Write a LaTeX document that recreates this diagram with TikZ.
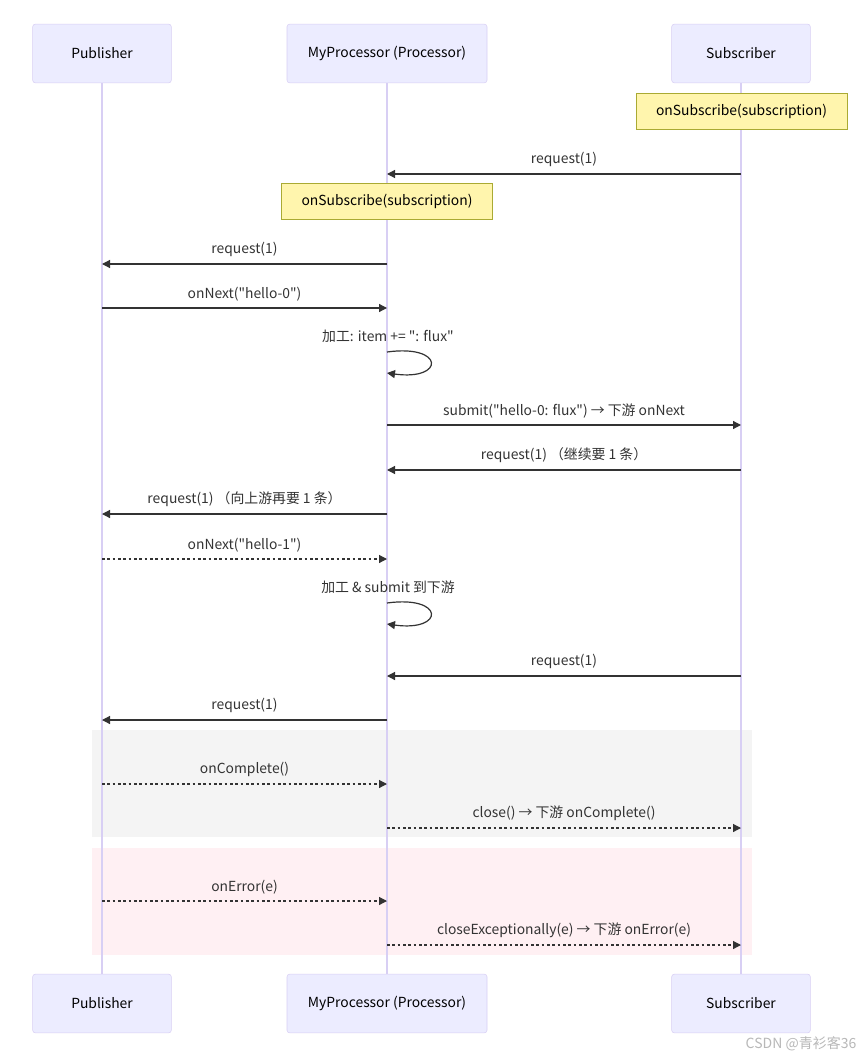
\documentclass[tikz,border=0pt]{standalone}
\usepackage{fontspec}
\newfontfamily\diagfont{Noto Sans CJK SC}
\usetikzlibrary{arrows.meta, positioning}
\definecolor{actfill}{HTML}{ECECFF}
\definecolor{actline}{HTML}{D8CFF4}
\definecolor{notefill}{HTML}{FFF5AD}
\definecolor{noteline}{HTML}{AAAA33}
\definecolor{msgcol}{HTML}{333333}
\definecolor{cmplfill}{HTML}{F4F4F4}
\definecolor{errfill}{HTML}{FFF0F3}
\newcommand{\msgfont}{\diagfont\fontsize{10.4}{12}\selectfont}

\tikzset{
  actor/.style={draw=actline, fill=actfill, rounded corners=2pt, minimum width=104pt,
    minimum height=44pt, font=\msgfont},
  note/.style={draw=noteline, fill=notefill, minimum width=158pt, minimum height=27pt,
    font=\msgfont},
  life/.style={actline, line width=1.2pt},
  msg/.style={msgcol, line width=0.9pt, -{Triangle[length=6pt,width=6pt]}},
  reply/.style={msg, dash pattern=on 2pt off 2pt},
  lbl/.style={above=4pt, text=msgcol, font=\msgfont, inner sep=1pt}
}

\begin{document}
\begin{tikzpicture}[x=0.75pt, y=-0.75pt]
\useasboundingbox[fill=white] (0,0) rectangle (864,1059);
% blocks
\fill[cmplfill] (92,730) rectangle (752,837);
\fill[errfill] (92,848) rectangle (752,955);
% actors
\node[actor] (pubT) at (102,53.5) {Publisher};
\node[actor, minimum width=150pt] (procT) at (387,53.5) {MyProcessor (Processor)};
\node[actor] (subT) at (741,53.5) {Subscriber};
\node[actor] (pubB) at (102,1003.5) {Publisher};
\node[actor, minimum width=150pt] (procB) at (387,1003.5) {MyProcessor (Processor)};
\node[actor] (subB) at (741,1003.5) {Subscriber};
\foreach \a in {pub,proc,sub} \draw[life] (\a T) -- (\a B);
% notes
\node[note] (subnote) at (741.5,111) {onSubscribe(subscription)};
\node[note] (procnote) at (387,201) {onSubscribe(subscription)};
% messages
\draw[msg] (subT |- 0,174) -- (procT |- 0,174) node[lbl, midway]{request(1)};
\draw[msg] (procT |- 0,264) -- (pubT |- 0,264) node[lbl, midway]{request(1)};
\draw[msg] (pubT |- 0,308) -- (procT |- 0,308) node[lbl, midway]{onNext("hello-0")};
\node[text=msgcol, font=\msgfont] (work0) at (388,336) {加工: item += ": flux"};
\draw[msg] (procT |- 0,352) .. controls (445,344) and (445,381) .. (procT |- 0,373);
\draw[msg] (procT |- 0,425) -- (subT |- 0,425) node[lbl, midway]{submit("hello-0: flux") → 下游 onNext};
\draw[msg] (subT |- 0,470) -- (procT |- 0,470) node[lbl, midway]{request(1) （继续要 1 条）};
\draw[msg] (procT |- 0,514) -- (pubT |- 0,514) node[lbl, midway]{request(1) （向上游再要 1 条）};
\draw[reply] (pubT |- 0,559) -- (procT |- 0,559) node[lbl, midway]{onNext("hello-1")};
\node[text=msgcol, font=\msgfont] (work1) at (388,587) {加工 \& submit 到下游};
\draw[msg] (procT |- 0,603) .. controls (445,595) and (445,632) .. (procT |- 0,624);
\draw[msg] (subT |- 0,676) -- (procT |- 0,676) node[lbl, midway]{request(1)};
\draw[msg] (procT |- 0,720) -- (pubT |- 0,720) node[lbl, midway]{request(1)};
\draw[reply] (pubT |- 0,784) -- (procT |- 0,784) node[lbl, midway]{onComplete()};
\draw[reply] (procT |- 0,828) -- (subT |- 0,828) node[lbl, midway]{close() → 下游 onComplete()};
\draw[reply] (pubT |- 0,901) -- (procT |- 0,901) node[lbl, midway]{onError(e)};
\draw[reply] (procT |- 0,945) -- (subT |- 0,945) node[lbl, midway]{closeExceptionally(e) → 下游 onError(e)};
% watermark
\node[anchor=east, text=black!28, font=\diagfont\fontsize{10.5}{12}\selectfont] (mark) at (861,1044) {CSDN @青衫客36};
\end{tikzpicture}
\end{document}
